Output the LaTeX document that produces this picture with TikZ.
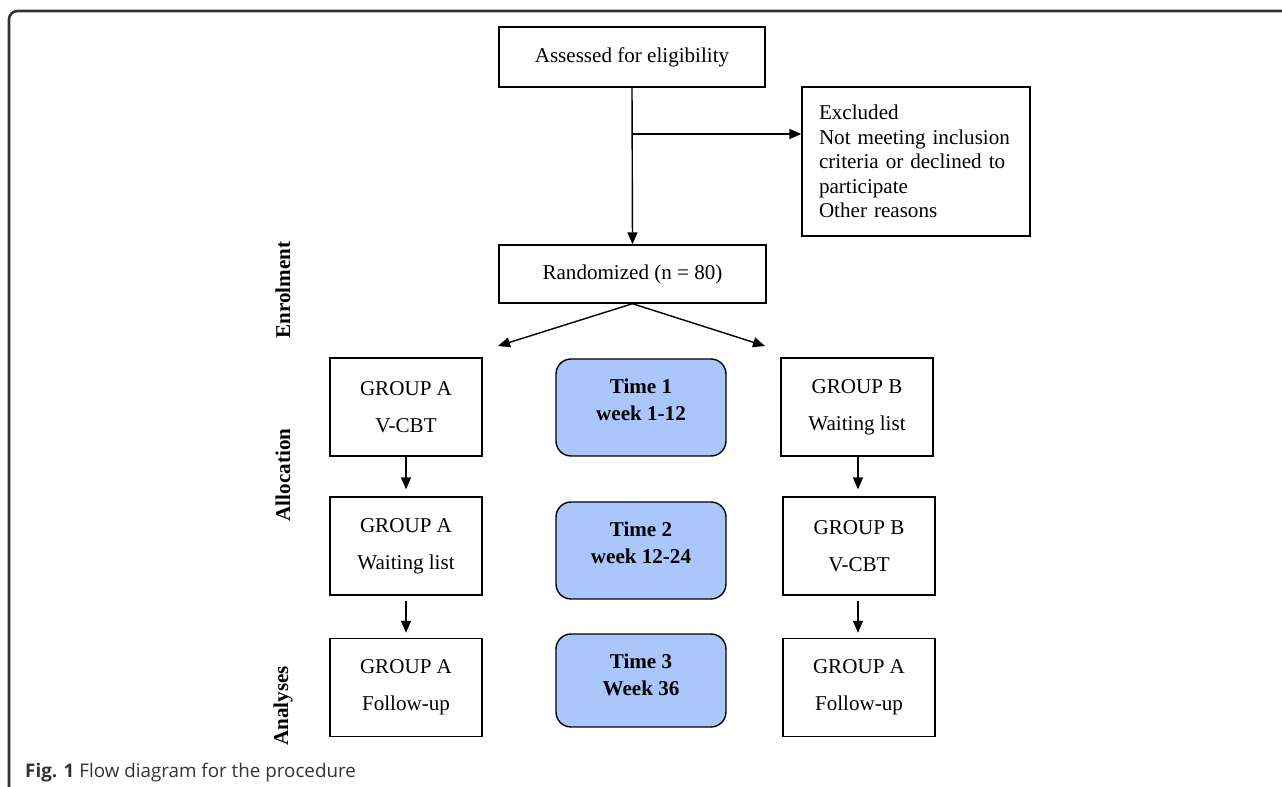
\documentclass[tikz,border=0pt]{standalone}
\usepackage{fontspec}
\setmainfont{Liberation Serif}
\newfontfamily\capfont{Open Sans}
\usepackage{xcolor}
\usetikzlibrary{arrows.meta}
\definecolor{timeblue}{RGB}{170,198,250}

\begin{document}
\begin{tikzpicture}[x=0.02cm,y=-0.02cm,
    font=\fontsize{12}{14}\selectfont,
    box/.style={draw,line width=0.8pt,align=center,inner sep=0pt},
    grp/.style={box,minimum width=3.04cm,minimum height=1.96cm,font=\fontsize{12}{21}\selectfont},
    timebox/.style={box,rounded corners=0.3cm,fill=timeblue,minimum width=3.4cm,minimum height=1.94cm,text depth=9pt,font=\fontsize{12}{15.5}\selectfont\bfseries},
    arr/.style={line width=0.8pt,-{Triangle[length=0.24cm,width=0.2cm]}},
    phase/.style={rotate=90,font=\fontsize{12}{14}\selectfont\bfseries}]
    \useasboundingbox (0,0) rectangle (1282,787);
    \draw[line width=1.5pt,black!80,rounded corners=0.17cm] (9,800) -- (9,11) -- (1300,11);

    % enrolment
    \node[box,minimum width=5.32cm,minimum height=1.2cm] (assess) at (632,57) {Assessed for eligibility};
    \node[box,minimum width=4.56cm,minimum height=2.98cm,text width=3.88cm,inner xsep=0.34cm,align=left] (excl) at (916,161.5)
        {Excluded\\Not meeting inclusion\\criteria or declined to\\participate\\Other reasons};
    \node[box,minimum width=5.34cm,minimum height=1.16cm] (rand) at (632.5,274) {Randomized (n = 80)};
    \coordinate (split) at (632,134);
    \draw[arr] (assess.south) -- (rand.north);
    \draw[arr] (split) -- (split -| excl.west);

    \coordinate (toA) at (498,346);
    \coordinate (toB) at (765,346);
    \draw[arr] (rand.south) -- (toA);
    \draw[arr] (rand.south) -- (toB);

    % allocation
    \node[grp] (a1) at (406,407) {GROUP A\\V-CBT};
    \node[timebox] (t1) at (641,407.5) {Time 1\\week 1-12};
    \node[grp] (b1) at (857,407) {GROUP B\\Waiting list};

    \node[grp] (a2) at (406,546) {GROUP A\\Waiting list};
    \node[timebox] (t2) at (641,550.5) {Time 2\\week 12-24};
    \node[grp] (b2) at (859,546) {GROUP B\\V-CBT};

    % analyses
    \node[grp] (a3) at (406,687.5) {GROUP A\\Follow-up};
    \node[timebox,minimum height=1.86cm,text depth=7pt] (t3) at (641,680.5) {Time 3\\Week 36};
    \node[grp] (b3) at (859,687.5) {GROUP A\\Follow-up};

    \draw[arr,shorten >=0.14cm] (a1.south) -- (a2.north);
    \draw[arr,shorten <=0.1cm,shorten >=0.1cm] (a2.south) -- (a3.north);
    \draw[arr,shorten >=0.14cm] (b1.south -| 858,0) -- (b2.north -| 858,0);
    \draw[arr,shorten <=0.1cm,shorten >=0.1cm] (b2.south -| 858,0) -- (b3.north -| 858,0);

    \node[phase] (enrol) at (283,290) {Enrolment};
    \node[phase] (alloc) at (283,475) {Allocation};
    \node[phase] (anal) at (283,706) {Analyses};

    \node[anchor=west,text=black!80,font=\capfont\fontsize{10.7}{13}\selectfont] (cap) at (19,773) {\textbf{Fig. 1} Flow diagram for the procedure};
\end{tikzpicture}
\end{document}
